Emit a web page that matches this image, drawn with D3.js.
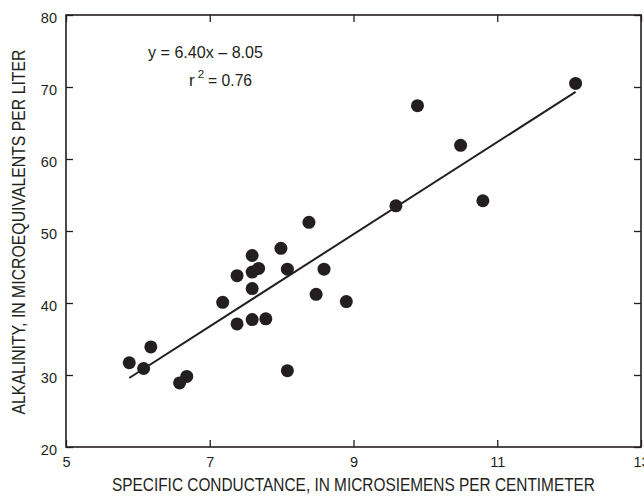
<!DOCTYPE html>
<meta charset='utf-8'>
<style>
    body {
        margin: 0;
        background: white;
    }
    text {
        font-family: 'Liberation Sans Narrow', 'Arial Narrow', 'Liberation Sans', sans-serif;
        fill: #231f20;
    }
</style>
<body>
<div id='container'></div>
<script src='https://d3js.org/d3.v7.min.js'></script>
<script>
    // Specific conductance (microsiemens/cm) vs alkalinity (microequivalents/L)
    const conductance = [
        5.88, 6.08, 6.18, 6.58, 6.68, 7.18, 7.38, 7.38, 7.59, 7.59,
        7.68, 7.59, 7.59, 7.78, 7.99, 8.08, 8.08, 8.48, 8.59, 8.90,
        8.38, 9.89, 10.49, 9.59, 10.80, 12.09
    ];
    const alkalinity = [
        31.7, 30.9, 33.9, 28.9, 29.8, 40.1, 43.8, 37.1, 46.6, 44.3,
        44.8, 42.0, 37.7, 37.8, 47.6, 44.7, 30.6, 41.2, 44.7, 40.2,
        51.2, 67.4, 61.9, 53.5, 54.2, 70.5
    ];
    const xTicks = [5, 7, 9, 11, 13];
    const yTicks = [20, 30, 40, 50, 60, 70, 80];
    const slope = 6.40, intercept = -8.05;

    const W = 644, H = 496;
    const margin = { top: 15, left: 66, right: 3, bottom: 49 };
    const width = W - margin.left - margin.right,
        height = H - margin.top - margin.bottom;

    const points = conductance.map( ( c, i ) => ( { x: c, y: alkalinity[ i ] } ) );

    let xScale = d3.scaleLinear().domain( [5, 13] ).range( [0, width] );
    let yScale = d3.scaleLinear().domain( [20, 80] ).range( [height, 0] );

    let svg = d3.select( '#container' )
        .append( 'svg' )
        .attr( 'width', W )
        .attr( 'height', H )
            .append( 'g' )
                .attr( 'transform', `translate( ${margin.left}, ${margin.top} )` );

    // inward ticks on all four sides
    const tickLen = 7;
    const styleAxis = g => {
        g.select( '.domain' ).remove();
        g.selectAll( '.tick line' ).attr( 'stroke', '#231f20' ).attr( 'stroke-width', 1.3 );
    };

    svg.append( 'g' )
        .attr( 'transform', `translate( 0, ${height} )` )
        .call( d3.axisBottom( xScale ).tickValues( xTicks ).tickSize( -tickLen ).tickPadding( 10 ) )
        .call( styleAxis )
        .call( g => g.selectAll( '.tick text' ).style( 'font-size', '14.5px' ) );

    svg.append( 'g' )
        .call( d3.axisLeft( yScale ).tickValues( yTicks ).tickSize( -tickLen ).tickPadding( 9 ) )
        .call( styleAxis )
        .call( g => g.selectAll( '.tick text' ).style( 'font-size', '14.5px' ).attr( 'dy', '0.55em' ) );

    svg.append( 'g' )
        .call( d3.axisTop( xScale ).tickValues( xTicks ).tickSize( -tickLen ).tickFormat( '' ) )
        .call( styleAxis );

    svg.append( 'g' )
        .attr( 'transform', `translate( ${width}, 0 )` )
        .call( d3.axisRight( yScale ).tickValues( yTicks ).tickSize( -tickLen ).tickFormat( '' ) )
        .call( styleAxis );

    // frame
    svg.append( 'rect' )
        .attr( 'width', width )
        .attr( 'height', height )
        .attr( 'fill', 'none' )
        .attr( 'stroke', '#231f20' )
        .attr( 'stroke-width', 1.6 );

    // regression line over the data range
    const xExt = d3.extent( conductance );
    svg.append( 'line' )
        .attr( 'x1', xScale( xExt[0] ) )
        .attr( 'y1', yScale( slope * xExt[0] + intercept ) )
        .attr( 'x2', xScale( xExt[1] ) )
        .attr( 'y2', yScale( slope * xExt[1] + intercept ) )
        .attr( 'stroke', '#231f20' )
        .attr( 'stroke-width', 2 );

    svg.selectAll( '.dot' )
        .data( points )
        .enter().append( 'circle' )
            .attr( 'class', 'dot' )
            .attr( 'cx', d => xScale( d.x ) )
            .attr( 'cy', d => yScale( d.y ) )
            .attr( 'r', 6.5 )
            .attr( 'fill', '#231f20' );

    // equation
    svg.append( 'text' )
        .attr( 'x', 82 )
        .attr( 'y', 43 )
        .attr( 'textLength', 115 )
        .attr( 'lengthAdjust', 'spacingAndGlyphs' )
        .style( 'font-size', '17px' )
        .text( 'y = 6.40x \u2013 8.05' );

    let r2 = svg.append( 'text' )
        .attr( 'x', 123 )
        .attr( 'y', 71 )
        .style( 'font-size', '17px' );
    r2.append( 'tspan' ).text( 'r' );
    r2.append( 'tspan' ).attr( 'dx', 3 ).attr( 'dy', -8 ).style( 'font-size', '11.5px' ).text( '2' );
    r2.append( 'tspan' ).attr( 'dx', 4 ).attr( 'dy', 8 )
        .attr( 'textLength', 44 )
        .attr( 'lengthAdjust', 'spacingAndGlyphs' )
        .text( '= 0.76' );

    // axis titles
    svg.append( 'text' )
        .attr( 'x', width / 2 )
        .attr( 'y', height + 44 )
        .attr( 'text-anchor', 'middle' )
        .attr( 'textLength', 483 )
        .attr( 'lengthAdjust', 'spacingAndGlyphs' )
        .style( 'font-size', '17.5px' )
        .text( 'SPECIFIC CONDUCTANCE, IN MICROSIEMENS PER CENTIMETER' );

    svg.append( 'text' )
        .attr( 'transform', `translate( ${-margin.left + 25}, ${height / 2 + 1} ) rotate( -90 )` )
        .attr( 'text-anchor', 'middle' )
        .attr( 'textLength', 365 )
        .attr( 'lengthAdjust', 'spacingAndGlyphs' )
        .style( 'font-size', '17.5px' )
        .text( 'ALKALINITY, IN MICROEQUIVALENTS PER LITER' );
</script>
</body>
